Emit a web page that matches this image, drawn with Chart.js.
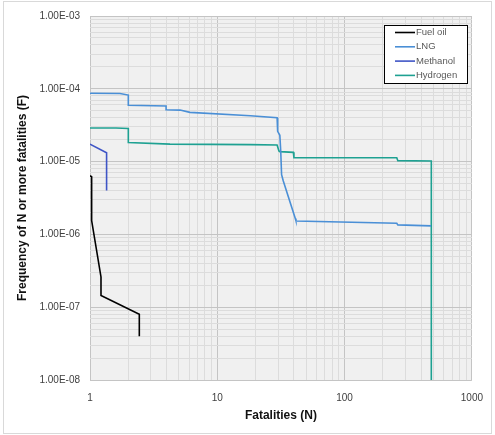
<!DOCTYPE html>
<html>
<head>
<meta charset="utf-8">
<script src="https://cdn.jsdelivr.net/npm/chart.js@4/dist/chart.umd.min.js"></script>
<style>
  html, body { margin: 0; padding: 0; background: #fff; }
  #wrap { position: relative; width: 495px; height: 435px; }
  #frame { position: absolute; left: 3px; top: 1px; width: 487px; height: 431px; border: 1px solid #d9d9d9; }
  canvas { position: absolute; left: 0; top: 0; }
</style>
</head>
<body>
<div id="wrap">
  <div id="frame"></div>
  <canvas id="fn" width="495" height="435"></canvas>
</div>
<script>
// F-N curves (N, F)
const fuelOilN = [1.0, 1.03, 1.03, 1.22, 1.22, 2.44, 2.44];
const fuelOilF = [6.4e-6, 6.2e-6, 1.55e-6, 2.6e-7, 1.45e-7, 8.0e-8, 4.0e-8];

const lngN = [1.0, 1.72, 2.0, 2.0, 3.96, 3.96, 5.1, 6.1, 18.2, 29.5, 29.8, 31, 31.5, 32, 33, 41, 41.5, 257, 262, 478];
const lngF = [8.7e-5, 8.6e-5, 8.2e-5, 5.95e-5, 5.8e-5, 5.15e-5, 5.1e-5, 4.75e-5, 4.26e-5, 4.0e-5, 2.6e-5, 2.3e-5, 1.4e-5, 6.6e-6, 5.4e-6, 1.65e-6, 1.53e-6, 1.42e-6, 1.35e-6, 1.31e-6];

const methanolN = [1.0, 1.35, 1.35];
const methanolF = [1.74e-5, 1.32e-5, 4.0e-6];

const hydrogenN = [1.0, 1.6, 2.0, 2.0, 4.25, 18.2, 29.5, 30.5, 31, 39.6, 40, 257, 262, 480, 480];
const hydrogenF = [2.9e-5, 2.9e-5, 2.85e-5, 1.83e-5, 1.74e-5, 1.71e-5, 1.69e-5, 1.4e-5, 1.37e-5, 1.34e-5, 1.13e-5, 1.13e-5, 1.03e-5, 1.02e-5, 1.0e-8];

const xTickValues = [1, 10, 100, 1000];
const xTickLabels = ['1', '10', '100', '1000'];
const yTickValues = [1e-8, 1e-7, 1e-6, 1e-5, 1e-4, 1e-3];
const yTickLabels = ['1.00E-08', '1.00E-07', '1.00E-06', '1.00E-05', '1.00E-04', '1.00E-03'];

function pts(xs, ys) { return xs.map((x, i) => ({ x: x, y: ys[i] })); }

function isDecade(v) {
  const l = Math.log10(v);
  return Math.abs(l - Math.round(l)) < 1e-9;
}

// every 1..9 step inside the range, so the minor grid shows
function logTicks(lo, hi) {
  const out = [];
  for (let e = Math.round(Math.log10(lo)); e < Math.round(Math.log10(hi)); e++) {
    for (let m = 1; m < 10; m++) out.push(+(m * Math.pow(10, e)).toPrecision(3));
  }
  out.push(hi);
  return out.map(v => ({ value: v, major: isDecade(v) }));
}

function labelFor(values, labels, v) {
  for (let i = 0; i < values.length; i++) {
    if (Math.abs(Math.log10(values[i]) - Math.log10(v)) < 1e-9) return labels[i];
  }
  return '';
}

const gridColor = (ctx) => (ctx.tick && isDecade(ctx.tick.value)) ? '#c4c4c4' : '#dcdcdc';

const plotBg = {
  id: 'plotBg',
  beforeDraw(chart) {
    const a = chart.chartArea, c = chart.ctx;
    c.save();
    c.fillStyle = '#f0f0f0';
    c.fillRect(a.left, a.top, a.right - a.left, a.bottom - a.top);
    c.restore();
  }
};

function ds(label, xs, ys, color) {
  return {
    label: label,
    data: pts(xs, ys),
    borderColor: color,
    backgroundColor: color,
    borderWidth: 1.6,
    pointRadius: 0,
    showLine: true,
    fill: false,
    tension: 0
  };
}

new Chart(document.getElementById('fn'), {
  type: 'scatter',
  data: {
    datasets: [
      ds('Fuel oil', fuelOilN, fuelOilF, '#000000'),
      ds('LNG', lngN, lngF, '#4a8fd6'),
      ds('Methanol', methanolN, methanolF, '#3f55c6'),
      ds('Hydrogen', hydrogenN, hydrogenF, '#1ea192')
    ]
  },
  options: {
    responsive: false,
    animation: false,
    devicePixelRatio: 1,
    layout: { padding: { top: 13, right: 23, left: 0, bottom: 0 } },
    plugins: {
      legend: { display: false },
      tooltip: { enabled: false }
    },
    scales: {
      x: {
        type: 'logarithmic',
        min: 1,
        max: 1000,
        afterBuildTicks: (s) => { s.ticks = logTicks(1, 1000); },
        afterFit: (s) => { s.height = 55; },
        grid: { color: gridColor, lineWidth: 1, drawTicks: false },
        border: { display: false },
        ticks: {
          autoSkip: false,
          maxRotation: 0,
          padding: 12,
          color: '#404040',
          font: { family: 'Liberation Sans, Arial', size: 10 },
          callback: (v) => labelFor(xTickValues, xTickLabels, v)
        },
        title: {
          display: true,
          text: 'Fatalities (N)',
          color: '#111',
          font: { family: 'Liberation Sans, Arial', size: 12, weight: 'bold' },
          padding: { top: 2, bottom: 12 }
        }
      },
      y: {
        type: 'logarithmic',
        min: 1e-8,
        max: 1e-3,
        afterBuildTicks: (s) => { s.ticks = logTicks(1e-8, 1e-3); },
        afterFit: (s) => { s.width = 90; },
        grid: { color: gridColor, lineWidth: 1, drawTicks: false },
        border: { display: false },
        ticks: {
          autoSkip: false,
          padding: 10,
          color: '#404040',
          font: { family: 'Liberation Sans, Arial', size: 10 },
          callback: (v) => labelFor(yTickValues, yTickLabels, v)
        },
        title: {
          display: true,
          text: 'Frequency of N or more fatalities (F)',
          color: '#111',
          font: { family: 'Liberation Sans, Arial', size: 12, weight: 'bold' },
          padding: { top: 15, bottom: 0 }
        }
      }
    }
  },
  plugins: [plotBg, {
    id: 'boxLegend',
    afterDraw(chart) {
      const c = chart.ctx;
      const x0 = 384, y0 = 25, w = 83, h = 58;
      c.save();
      c.fillStyle = '#ffffff';
      c.fillRect(x0, y0, w, h);
      c.strokeStyle = '#000';
      c.lineWidth = 1;
      c.strokeRect(x0 + 0.5, y0 + 0.5, w, h);
      c.font = '9.5px Liberation Sans, Arial';
      c.textBaseline = 'middle';
      chart.data.datasets.forEach((d, i) => {
        const y = y0 + 7.5 + i * 14.3;
        c.strokeStyle = d.borderColor;
        c.lineWidth = 1.6;
        c.beginPath();
        c.moveTo(x0 + 11, y);
        c.lineTo(x0 + 31, y);
        c.stroke();
        c.fillStyle = '#595959';
        c.fillText(d.label, x0 + 32, y);
      });
      c.restore();
    }
  }]
});
</script>
</body>
</html>
